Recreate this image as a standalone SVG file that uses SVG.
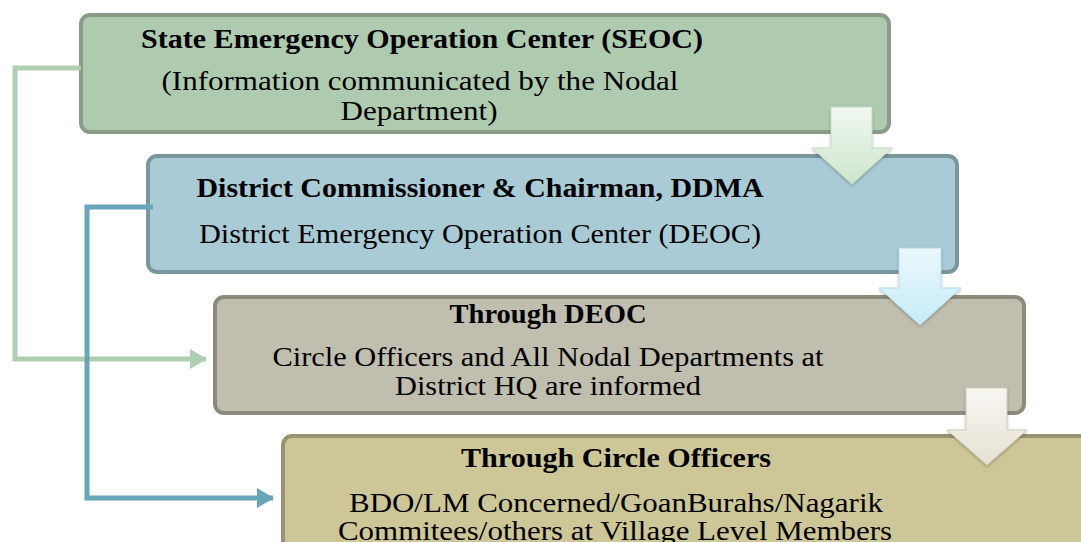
<svg xmlns="http://www.w3.org/2000/svg" width="1081" height="542" viewBox="0 0 1081 542">
<style>
.box{stroke-width:4}
.t{font-family:"Liberation Serif","DejaVu Serif",serif;font-size:27px;fill:#000;text-anchor:middle}
.b{font-weight:bold}
.conn{fill:none;stroke-width:5;stroke-linejoin:miter}
</style>
<defs>
<linearGradient id="g1" x1="0" y1="0" x2="0" y2="1"><stop offset="0" stop-color="#f0f8f0"/><stop offset="1" stop-color="#cde6cc"/></linearGradient>
<linearGradient id="g2" x1="0" y1="0" x2="0" y2="1"><stop offset="0" stop-color="#eaf8fc"/><stop offset="1" stop-color="#c6ecf7"/></linearGradient>
<linearGradient id="g3" x1="0" y1="0" x2="0" y2="1"><stop offset="0" stop-color="#f7f6f1"/><stop offset="1" stop-color="#e5e2d3"/></linearGradient>
<filter id="sh" x="-20%" y="-20%" width="140%" height="140%"><feDropShadow dx="0" dy="1.5" stdDeviation="1.5" flood-color="#000" flood-opacity="0.25"/></filter>
<marker id="mg" markerWidth="4" markerHeight="4" refX="3.2" refY="2" orient="auto" markerUnits="strokeWidth"><path d="M0,0 L3.4,2 L0,4 Z" fill="#b0cfb2"/></marker>
<marker id="mb" markerWidth="4" markerHeight="4" refX="3.2" refY="2" orient="auto" markerUnits="strokeWidth"><path d="M0,0 L3.4,2 L0,4 Z" fill="#67a6ba"/></marker>
</defs>

<g id="node-seoc">
<rect class="box" x="81" y="15" width="808" height="117" rx="9" fill="#afcbaf" stroke="#889c88"/>
<text class="t b" x="422" y="48" textLength="562" lengthAdjust="spacingAndGlyphs">State Emergency Operation Center (SEOC)</text>
<text class="t" x="420" y="90" textLength="517" lengthAdjust="spacingAndGlyphs">(Information communicated by the Nodal</text>
<text class="t" x="419" y="120" textLength="157" lengthAdjust="spacingAndGlyphs">Department)</text>
</g>

<g id="node-deoc">
<rect class="box" x="148" y="156" width="809" height="116" rx="9" fill="#a8cbd5" stroke="#7a969d"/>
<text class="t b" x="480" y="197" textLength="567" lengthAdjust="spacingAndGlyphs">District Commissioner &amp; Chairman, DDMA</text>
<text class="t" x="480" y="243" textLength="562" lengthAdjust="spacingAndGlyphs">District Emergency Operation Center (DEOC)</text>
</g>

<g id="node-through-deoc">
<rect class="box" x="215" y="297" width="809" height="116" rx="9" fill="#c0beae" stroke="#8b8a7b"/>
<text class="t b" x="548" y="323" textLength="197" lengthAdjust="spacingAndGlyphs">Through DEOC</text>
<text class="t" x="548" y="366" textLength="551" lengthAdjust="spacingAndGlyphs">Circle Officers and All Nodal Departments at</text>
<text class="t" x="548" y="395" textLength="306" lengthAdjust="spacingAndGlyphs">District HQ are informed</text>
</g>

<g id="node-through-co">
<rect class="box" x="283" y="436" width="830" height="140" rx="9" fill="#cdc697" stroke="#9b9271"/>
<text class="t b" x="616" y="467" textLength="310" lengthAdjust="spacingAndGlyphs">Through Circle Officers</text>
<text class="t" x="616" y="512" textLength="534" lengthAdjust="spacingAndGlyphs">BDO/LM Concerned/GoanBurahs/Nagarik</text>
<text class="t" x="615" y="540" textLength="554" lengthAdjust="spacingAndGlyphs">Commitees/others at Village Level Members</text>
</g>

<g id="arrows">
<path d="M831,107 H872 V148 H892 L852,184 L812,148 H831 Z" fill="url(#g1)" stroke="#c4dcc3" stroke-width="1" filter="url(#sh)"/>
<path d="M899,248 H941 V288 H961 L920,325 L879,288 H899 Z" fill="url(#g2)" stroke="#b4dce8" stroke-width="1" filter="url(#sh)"/>
<path d="M966,388 H1007 V430 H1027 L987,465 L947,430 H966 Z" fill="url(#g3)" stroke="#cfcbbb" stroke-width="1" filter="url(#sh)"/>
</g>

<g id="connectors">
<path class="conn" d="M81,68 H15 V359 H206" stroke="#b0cfb2" marker-end="url(#mg)"/>
<path class="conn" d="M153,207 H87 V498 H273" stroke="#67a6ba" marker-end="url(#mb)"/>
</g>
</svg>
